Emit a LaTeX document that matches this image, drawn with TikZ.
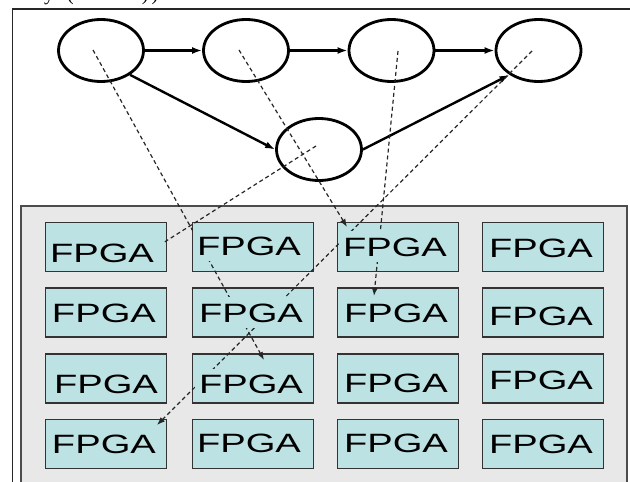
\documentclass[tikz,border=0pt]{standalone}
\usepackage{fontspec}
\usepackage{graphicx}
\setmainfont{Liberation Sans}
\newfontfamily\serifcut{Liberation Serif}
\usetikzlibrary{arrows.meta,shapes.geometric}
\definecolor{boardgray}{RGB}{232,232,232}
\definecolor{fpgafill}{RGB}{189,226,228}
\newcommand{\fpgatext}{\scalebox{1.44}[1]{FPGA}}
\begin{document}
\begin{tikzpicture}[x=1pt,y=-1pt,
  task/.style={ellipse, draw=black, line width=2.8pt, minimum width=85pt,
    minimum height=62pt, inner sep=0pt},
  flow/.style={-{Latex[length=10pt,width=7pt]}, line width=2.4pt, black},
  mapping/.style={black!85, line width=1.2pt, dash pattern=on 4pt off 3pt},
  maptip/.style={-{Latex[length=8pt,width=6pt]}},
  fpga/.style={rectangle, draw=black!80, line width=1.3pt, fill=fpgafill,
    minimum width=121pt, minimum height=49pt, inner sep=0pt},
  fpgalabel/.style={anchor=base west, fill=fpgafill, inner xsep=4pt,
    inner ysep=6pt, outer sep=0pt, text=black,
    font=\fontsize{26.5}{30}\selectfont}
]
\useasboundingbox (0,0) rectangle (630,482);

% soft shadow at the left margin
\shade[top color=white, middle color=black!16, bottom color=white]
  (0,45) rectangle (11,250);

% cut-off caption line above the frame
\node[anchor=base west, inner sep=0pt, font=\serifcut\fontsize{20}{24}\selectfont]
  (caption) at (44,0.5) {y\hspace{13pt}(\hspace{68pt})\hspace{3pt})};

% outer frame
\draw[black!85, line width=1.6pt] (12.5,9) rectangle (660,500);

% board holding the FPGA array
\draw[fill=boardgray, draw=black!70, line width=1.2pt] (21,206) rectangle (627,500);

% task graph
\node[task] (c1) at (101,50.5) {};
\node[task] (c2) at (246,50.5) {};
\node[task] (c3) at (391.5,50.5) {};
\node[task] (c4) at (538.5,50.5) {};
\node[task] (c5) at (319,149.5) {};

\draw[flow] (c1) -- (c2);
\draw[flow] (c2) -- (c3);
\draw[flow] (c3) -- (c4);
\draw[flow] (c1.-40) -- (c5.west);
\draw[flow] (c5.east) -- (c4.220);

% FPGA array
\foreach \r/\y in {1/247,2/312.5,3/378.5,4/444}{
  \foreach \c/\x in {1/106,2/253,3/398,4/543}{
    \node[fpga] (f\r\c) at (\x,\y) {};
  }
}

% task-to-FPGA mapping
\coordinate (s1) at (93,50);
\coordinate (s2) at (239,50);
\coordinate (s3) at (398,51);
\coordinate (s4) at (532,51);
\coordinate (s5) at (316,146);
\coordinate (t1) at (264,360);
\coordinate (t2) at (347,227);
\coordinate (t3) at (374,296);
\coordinate (t4) at (157,425);
\coordinate (t5) at (163,243);

\draw[mapping, maptip] (s1) -- (t1);
\draw[mapping, maptip] (s2) -- (t2);
\draw[mapping, maptip] (s3) -- (t3);
\draw[mapping, maptip] (s4) -- (t4);
\draw[mapping] (s5) -- (t5);

% FPGA labels
\node[fpgalabel] (l11) at (46,262) {\fpgatext};
\node[fpgalabel] (l12) at (193,255) {\fpgatext};
\node[fpgalabel] (l13) at (339,256) {\fpgatext};
\node[fpgalabel] (l14) at (485,257) {\fpgatext};
\node[fpgalabel] (l21) at (48,322) {\fpgatext};
\node[fpgalabel] (l22) at (195,322) {\fpgatext};
\node[fpgalabel] (l23) at (340,322) {\fpgatext};
\node[fpgalabel] (l24) at (485,325) {\fpgatext};
\node[fpgalabel] (l31) at (50,393) {\fpgatext};
\node[fpgalabel] (l32) at (195,393) {\fpgatext};
\node[fpgalabel] (l33) at (340,392) {\fpgatext};
\node[fpgalabel] (l34) at (485,389) {\fpgatext};
\node[fpgalabel] (l41) at (48,453) {\fpgatext};
\node[fpgalabel] (l42) at (193,452) {\fpgatext};
\node[fpgalabel] (l43) at (340,452) {\fpgatext};
\node[fpgalabel] (l44) at (485,453) {\fpgatext};
\end{tikzpicture}
\end{document}
